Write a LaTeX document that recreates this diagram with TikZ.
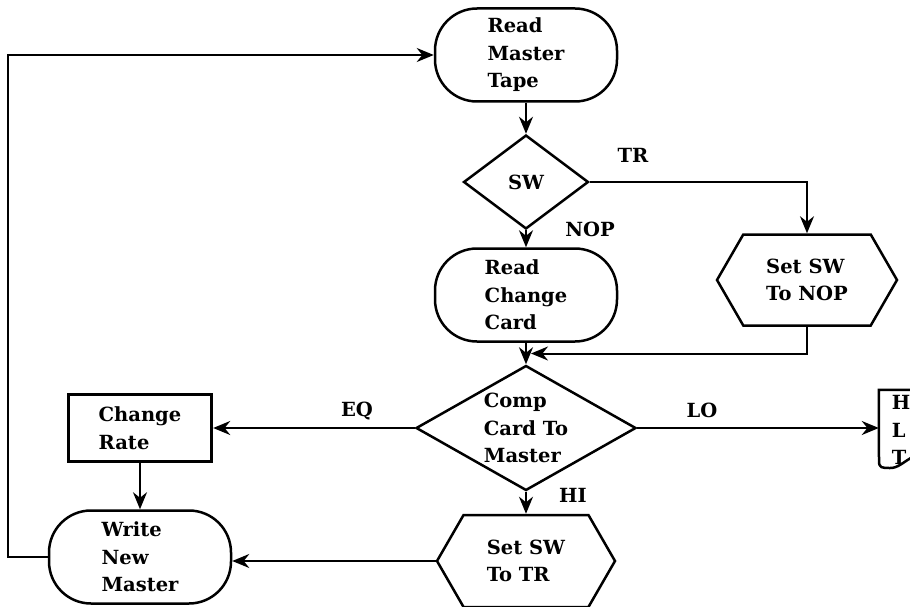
\documentclass[tikz,border=0pt]{standalone}
\usepackage{fontspec}
\setmainfont{DejaVu Serif}
\usetikzlibrary{arrows.meta,positioning,calc,shapes.geometric,shapes.symbols}

\begin{document}
\begin{tikzpicture}[x=1pt,y=-1pt,
    font=\bfseries\fontsize{19.5}{27.5}\selectfont,
    every node/.style={align=left},
    term/.style={draw,line width=2.5pt,rectangle,rounded corners=42pt,
      minimum width=182pt,minimum height=93pt,inner sep=0pt},
    decide/.style={draw,line width=2.5pt,diamond,inner sep=0pt},
    prep/.style={draw,line width=2.5pt,signal,signal to=east and west,
      signal pointer angle=120,minimum width=180pt,minimum height=91pt,inner sep=0pt},
    proc/.style={draw,line width=3.4pt,minimum width=143pt,minimum height=67pt},
    flow/.style={-{Stealth[length=17pt,width=14pt]},line width=2pt}]
  \useasboundingbox (0,0) rectangle (910,607);
  \clip (0,0) rectangle (910,607);

  \node[term] (rmt) at (526,55) {Read\\Master\\Tape};
  \node[decide,minimum width=125pt,minimum height=94pt] (sw) at (526,182) {SW};
  \node[term] (rcc) at (526,295) {Read\\Change\\Card};
  \node[prep] (nop) at (807,280) {Set SW\\To NOP};
  \node[decide,minimum width=220pt,minimum height=125pt,
    label={[align=left]center:Comp\\Card To\\Master}] (comp) at (526,428) {};
  \node[prep,minimum width=178pt,minimum height=92pt] (sst) at (526,561) {Set SW\\To TR};
  \node[proc] (cr) at (140,428) {Change\\Rate};
  \node[term] (wnm) at (140,557) {Write\\New\\Master};
  \node[minimum width=44pt,minimum height=80pt,inner sep=0pt] (halt) at (901,430) {H\\L\\T};

  % document symbol, cut at the page edge
  \draw[line width=2.5pt] (halt.north east) -- (halt.north west) -- (879,461)
    .. controls (879,468) and (882,468) .. (890,468)
    .. controls (898,468) and (902,463) .. (914,456);

  \coordinate (join) at ($(rcc.south)!0.5!(comp.north)$);

  \draw[flow] (wnm.west) -- ++(-40,0) |- (rmt.west);
  \draw[flow] (rmt.south) -- (sw.north);
  \draw[flow] (sw.east) -| (nop.north);
  \draw[flow] (sw.south) -- (rcc.north);
  \draw[flow] (nop.south) |- ([xshift=5pt]join);
  \draw[flow] (rcc.south) -- (comp.north);
  \draw[flow] (comp.west) -- (cr.east);
  \draw[flow] (comp.east) -- (comp.east -| halt.west);
  \draw[flow] (comp.south) -- (sst.north);
  \draw[flow] (sst.west) -- (sst.west -| wnm.east);
  \draw[flow] (cr.south) -- (wnm.north);

  \node (tr) at (633,155) {TR};
  \node (nopl) at (590,229) {NOP};
  \node (eq) at (357,411) {EQ};
  \node (lo) at (702,410) {LO};
  \node (hi) at (573,495) {HI};
\end{tikzpicture}
\end{document}
